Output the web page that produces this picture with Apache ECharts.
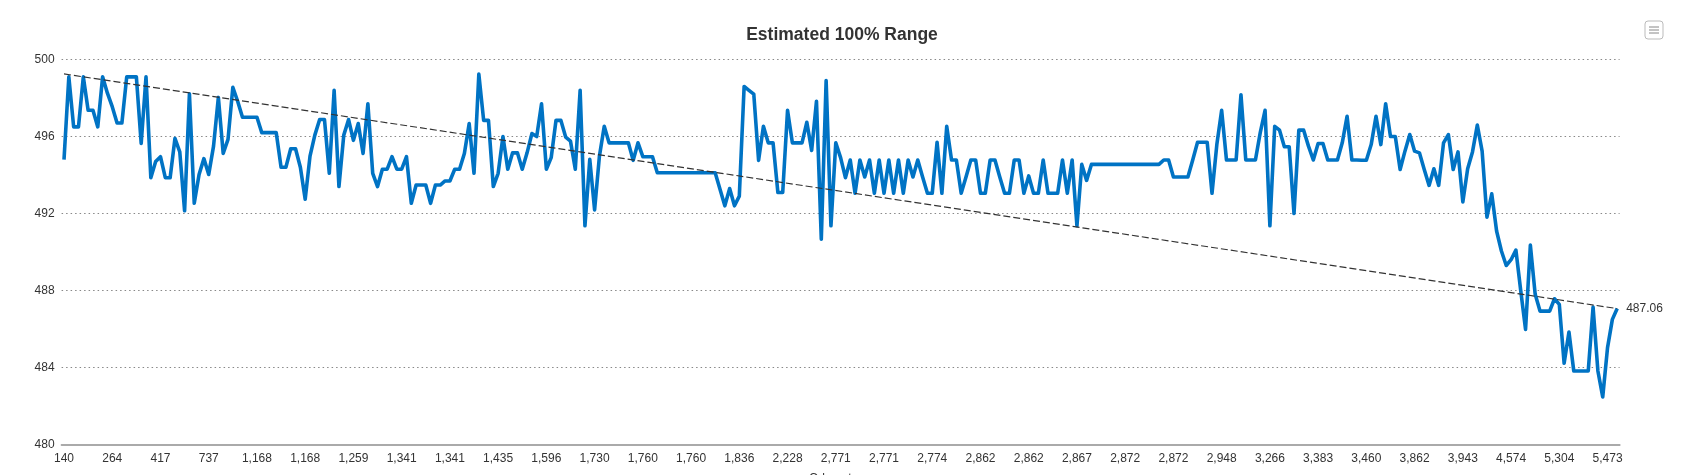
<!DOCTYPE html>
<html><head><meta charset="utf-8">
<style>html,body{margin:0;padding:0;background:#fff}#c{width:1696px;height:475px}</style>
<script src="https://cdn.jsdelivr.net/npm/echarts@6/dist/echarts.min.js"></script>
</head><body><div id="c"></div>
<script>
const titleText = 'Estimated 100% Range';
const xAxisName = 'Odometer';
const tickLabels = ['140','264','417','737','1,168','1,168','1,259','1,341','1,341','1,435','1,596','1,730','1,760','1,760','1,836','2,228','2,771','2,771','2,774','2,862','2,862','2,867','2,872','2,872','2,948','3,266','3,383','3,460','3,862','3,943','4,574','5,304','5,473'];
const range = [
494.8,499.1,496.5,496.5,499.1,497.36,497.36,496.5,499.1,498.25,
497.55,496.7,496.7,499.1,499.1,499.1,495.64,499.1,493.86,494.7,
494.95,493.86,493.86,495.9,495.2,492.14,498.22,492.53,494.03,494.85,
494.03,495.5,498.03,495.12,495.85,498.55,497.83,497.0,497.0,497.0,
497.0,496.2,496.2,496.2,496.2,494.4,494.4,495.36,495.36,494.4,
492.74,494.98,496.07,496.88,496.88,494.09,498.4,493.4,496.07,496.88,
495.8,496.67,495.12,497.7,494.09,493.4,494.3,494.3,494.95,494.3,
494.3,494.95,492.53,493.48,493.48,493.48,492.53,493.48,493.48,493.69,
493.69,494.3,494.3,495.12,496.67,494.09,499.24,496.84,496.84,493.4,
494.09,496.0,494.3,495.15,495.15,494.3,495.15,496.15,496.0,497.7,
494.3,494.9,496.84,496.84,495.97,495.76,494.3,498.4,491.36,494.81,
492.19,494.98,496.53,495.67,495.67,495.67,495.67,495.67,494.76,495.67,
494.95,494.95,494.95,494.12,494.12,494.12,494.12,494.12,494.12,494.12,
494.12,494.12,494.12,494.12,494.12,494.12,493.26,492.4,493.3,492.4,
492.9,498.6,498.4,498.2,494.76,496.53,495.67,495.67,493.09,493.09,
497.36,495.67,495.67,495.67,496.74,495.28,497.83,490.67,498.91,491.36,
495.67,494.9,493.86,494.78,493.05,494.78,493.9,494.78,493.05,494.78,
493.05,494.78,493.05,494.78,493.05,494.78,493.9,494.78,493.9,493.05,
493.05,495.7,493.05,496.53,494.78,494.78,493.05,493.9,494.78,494.78,
493.05,493.05,494.78,494.78,493.9,493.05,493.05,494.78,494.78,493.05,
493.95,493.05,493.05,494.78,493.05,493.05,493.05,494.78,493.05,494.78,
491.36,494.55,493.72,494.55,494.55,494.55,494.55,494.55,494.55,494.55,
494.55,494.55,494.55,494.55,494.55,494.55,494.55,494.55,494.78,494.78,
493.9,493.9,493.9,493.9,494.78,495.7,495.7,495.7,493.05,495.58,
497.36,494.78,494.78,494.78,498.17,494.78,494.78,494.78,496.2,497.36,
491.36,496.53,496.33,495.47,495.47,492.0,496.33,496.33,495.5,494.78,
495.64,495.64,494.78,494.78,494.78,495.67,497.05,494.78,494.78,494.77,
494.77,495.58,497.05,495.58,497.7,496.0,496.0,494.29,495.24,496.1,
495.24,495.15,494.29,493.46,494.32,493.46,495.67,496.1,494.29,495.2,
492.6,494.32,495.2,496.59,495.24,491.81,493.02,491.09,490.05,489.3,
489.6,490.1,488.0,485.98,490.36,487.8,486.93,486.93,486.93,487.57,
487.28,484.22,485.84,483.82,483.82,483.82,483.82,487.14,483.82,482.47,
485.03,486.5,487.06];
const trendEnds = [499.25, 487.06];

const categories = range.map((_, i) => i % 10 === 0 ? tickLabels[i / 10] : '');
const font = '"Liberation Sans", Arial, sans-serif';
const chart = echarts.init(document.getElementById('c'), null, {renderer: 'canvas'});
chart.setOption({
  animation: false,
  backgroundColor: '#fff',
  title: {text: titleText, left: 837, top: 21, textAlign: 'center',
    textStyle: {fontFamily: font, fontSize: 17.5, fontWeight: 'bold', color: '#333'}},
  grid: {left: 61.6, top: 59.5, width: 1558, height: 385, containLabel: false, outerBoundsMode: 'none'},
  xAxis: {type: 'category', data: categories, boundaryGap: true,
    name: xAxisName, nameLocation: 'middle', nameGap: 28,
    nameTextStyle: {fontFamily: font, fontSize: 12, color: '#333', padding: [0, 10, 0, 0]},
    axisLine: {lineStyle: {color: '#aaa', width: 2}},
    axisTick: {show: false},
    axisLabel: {interval: 9, margin: 8, fontFamily: font, fontSize: 12, color: '#333', hideOverlap: false},
    splitLine: {show: false}},
  yAxis: {type: 'value', min: 480, max: 500, interval: 4,
    axisLine: {show: false}, axisTick: {show: false},
    axisLabel: {margin: 7, fontFamily: font, fontSize: 12, color: '#333'},
    splitLine: {lineStyle: {type: [1.5, 3], color: '#888', width: 1}}},
  series: [
    {type: 'line', data: range, symbol: 'none', smooth: false, z: 2,
     lineStyle: {color: '#0073c4', width: 3.6, join: 'round'}},
    {type: 'line', data: [[0, trendEnds[0]], [range.length - 1, trendEnds[1]]], symbol: 'none', z: 3,
     lineStyle: {color: '#333', width: 1.2, type: [7, 3]},
     endLabel: {show: true, formatter: () => trendEnds[1].toFixed(2), distance: 9,
       fontFamily: font, fontSize: 12, color: '#333'}}
  ],
  graphic: [
    {type: 'rect', shape: {x: 1645, y: 21, width: 18, height: 18, r: 3},
     style: {fill: '#fff', stroke: '#bbb', lineWidth: 1}},
    {type: 'line', shape: {x1: 1649, y1: 27, x2: 1659, y2: 27}, style: {stroke: '#888', lineWidth: 1}},
    {type: 'line', shape: {x1: 1649, y1: 30, x2: 1659, y2: 30}, style: {stroke: '#888', lineWidth: 1}},
    {type: 'line', shape: {x1: 1649, y1: 33, x2: 1659, y2: 33}, style: {stroke: '#888', lineWidth: 1}}
  ]
});
</script></body></html>
